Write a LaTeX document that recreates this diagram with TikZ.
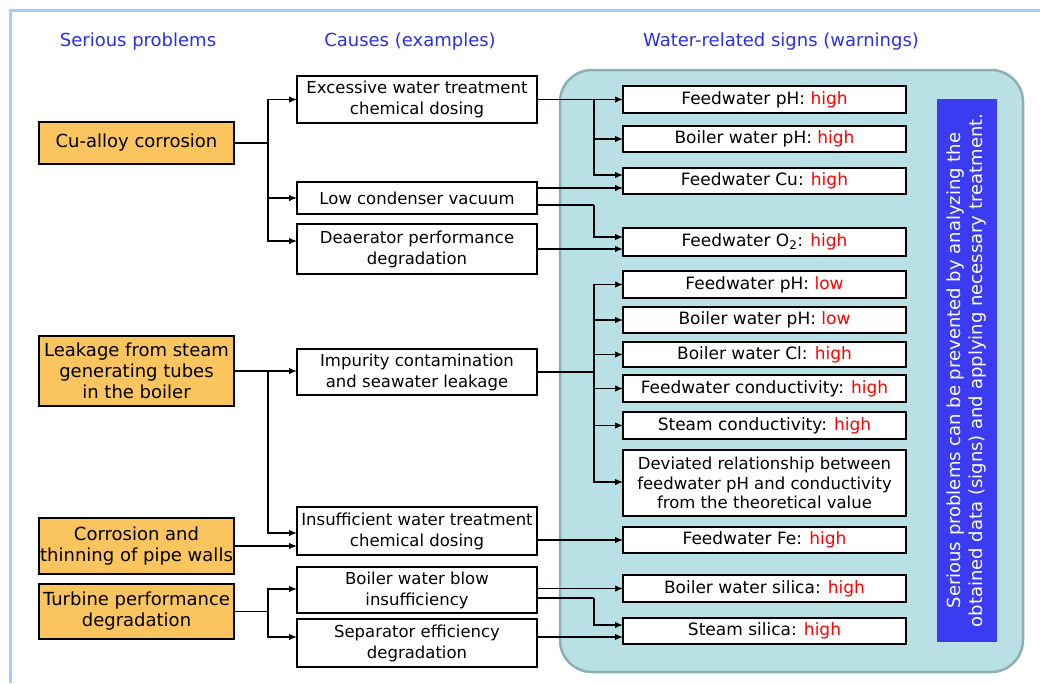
\documentclass[tikz,border=0pt]{standalone}
\usepackage{fontspec}
\setmainfont{DejaVu Sans}
\usetikzlibrary{arrows.meta}
\definecolor{hdrblue}{HTML}{2E2EE6}
\definecolor{probfill}{HTML}{FAC45E}
\definecolor{panelfill}{HTML}{B9E0E4}
\definecolor{paneledge}{HTML}{8DB0B2}
\definecolor{notefill}{HTML}{3B3BF2}
\definecolor{framecol}{HTML}{A6CCFA}
\definecolor{warnred}{HTML}{FF0000}
\newcommand{\wHigh}{\textcolor{warnred}{high}}
\newcommand{\wLow}{\textcolor{warnred}{low}}
\tikzset{
  hdr/.style={text=hdrblue, font=\fontsize{18}{21}\selectfont, inner sep=0pt},
  box/.style={draw=black, line width=1.8pt, inner sep=1pt, outer sep=0pt, align=center},
  prob/.style={box, fill=probfill, minimum width=195pt, font=\fontsize{18}{21}\selectfont},
  cause/.style={box, fill=white, minimum width=240pt, font=\fontsize{16.5}{21}\selectfont},
  sign/.style={box, fill=white, minimum width=283pt, font=\fontsize{17}{20}\selectfont},
  note/.style={fill=notefill, text=white, inner sep=0pt, align=center, font=\fontsize{18}{22}\selectfont},
  conn/.style={line width=1.3pt, draw=black},
  arr/.style={conn, -{Latex[length=8pt,width=6.5pt]}},
}
\begin{document}
\begin{tikzpicture}[x=1pt,y=-1pt]
\path[use as bounding box] (0,0) rectangle (1040,683);
\fill[white] (0,0) rectangle (1040,683);
% outer frame (top and left edges)
\draw[framecol, line width=3pt] (10.5,683) -- (10.5,10) -- (1040,10);

% column headings
\node[hdr] (h1) at (138,42) {Serious problems};
\node[hdr] (h2) at (410,42) {Causes (examples)};
\node[hdr] (h3) at (781,42) {Water-related signs (warnings)};

% panel behind the signs
\draw[paneledge, fill=panelfill, line width=2.5pt, rounded corners=32pt] (560,70) rectangle (1023,672);

% serious problems
\node[prob, minimum height=42pt] (p1) at (136.5,143) {Cu-alloy corrosion};
\node[prob, minimum height=70pt] (p2) at (136.5,371) {Leakage from steam\\generating tubes\\in the boiler};
\node[prob, minimum height=56pt] (p3) at (136.5,546) {Corrosion and\\thinning of pipe walls};
\node[prob, minimum height=55pt] (p4) at (136.5,611.5) {Turbine performance\\degradation};

% causes
\node[cause, minimum height=47pt] (c1) at (417,99.5) {Excessive water treatment\\chemical dosing};
\node[cause, minimum height=32pt] (c2) at (417,198) {Low condenser vacuum};
\node[cause, minimum height=50pt] (c3) at (417,249) {Deaerator performance\\degradation};
\node[cause, minimum height=46pt] (c4) at (417,372) {Impurity contamination\\and seawater leakage};
\node[cause, minimum height=48pt] (c5) at (417,531) {Insufficient water treatment\\chemical dosing};
\node[cause, minimum height=46pt] (c6) at (417,590) {Boiler water blow\\insufficiency};
\node[cause, minimum height=48pt] (c7) at (417,643) {Separator efficiency\\degradation};

% water-related signs
\node[sign, minimum height=27pt] (s1) at (764.5,99.5) {Feedwater pH: \wHigh};
\node[sign, minimum height=26pt] (s2) at (764.5,139) {Boiler water pH: \wHigh};
\node[sign, minimum height=26pt] (s3) at (764.5,181) {Feedwater Cu: \wHigh};
\node[sign, minimum height=28pt] (s4) at (764.5,242) {Feedwater O\textsubscript{2}: \wHigh};
\node[sign, minimum height=27pt] (s5) at (764.5,284.5) {Feedwater pH: \wLow};
\node[sign, minimum height=26pt] (s6) at (764.5,320) {Boiler water pH: \wLow};
\node[sign, minimum height=25pt] (s7) at (764.5,354.5) {Boiler water Cl: \wHigh};
\node[sign, minimum height=27pt] (s8) at (764.5,388.5) {Feedwater conductivity: \wHigh};
\node[sign, minimum height=27pt] (s9) at (764.5,425.5) {Steam conductivity: \wHigh};
\node[sign, minimum height=66pt, font=\fontsize{16.5}{19.5}\selectfont] (s10) at (764.5,483) {Deviated relationship between\\feedwater pH and conductivity\\from the theoretical value};
\node[sign, minimum height=26pt] (s11) at (764.5,540) {Feedwater Fe: \wHigh};
\node[sign, minimum height=27pt] (s12) at (764.5,588.5) {Boiler water silica: \wHigh};
\node[sign, minimum height=26pt] (s13) at (764.5,631) {Steam silica: \wHigh};

% note box
\node[note, rotate=90, minimum width=543pt, minimum height=60pt] (note) at (967,370.5)
  {Serious problems can be prevented by analyzing the\\obtained data (signs) and applying necessary treatment.};

% junction points
\coordinate (j1) at (268,143);
\coordinate (j2) at (268,371);
\coordinate (j4) at (268,611.5);
\coordinate (k1) at (594,99.5);
\coordinate (k2) at (594,205);
\coordinate (k4) at (594,372);
\coordinate (k6) at (594,598);

% problems -> causes
\draw[conn] (p1.east) -- (j1);
\draw[arr] (j1) |- (c1.west);
\draw[arr] (j1) |- (c2.west);
\draw[arr] (j1) |- ([yshift=8pt]c3.west);
\draw[arr] (p2.east) -- (p2.east -| c4.west);
\draw[arr] (j2) |- ([yshift=-2pt]c5.west);
\draw[arr] (p3.east) -- (p3.east -| c5.west);
\draw[conn] (p4.east) -- (j4);
\draw[arr] (j4) |- ([yshift=1pt]c6.west);
\draw[arr] (j4) |- ([yshift=6pt]c7.west);

% causes -> signs
\draw[arr] (c1.east) -- (s1.west);
\draw[arr] (k1) |- (s2.west);
\draw[arr] (k1) |- ([yshift=6pt]s3.west);
\draw[arr] ([yshift=10pt]c2.east) -- ([yshift=-7pt]s3.west);
\draw[conn] ([yshift=-7pt]c2.east) -- (k2);
\draw[arr] (k2) |- ([yshift=5pt]s4.west);
\draw[arr] (c3.east) -- ([yshift=-7pt]s4.west);
\draw[conn] (c4.east) -- (k4);
\draw[arr] (k4) |- (s5.west);
\draw[arr] (k4) |- (s6.west);
\draw[arr] (k4) |- (s7.west);
\draw[arr] (k4) |- (s8.west);
\draw[arr] (k4) |- (s9.west);
\draw[arr] (k4) |- ([yshift=1pt]s10.west);
\draw[arr] ([yshift=-9pt]c5.east) -- (s11.west);
\draw[arr] (s12.west -| c6.east) -- (s12.west);
\draw[conn] ([yshift=-8pt]c6.east) -- (k6);
\draw[arr] (k6) |- ([yshift=6pt]s13.west);
\draw[arr] ([yshift=6pt]c7.east) -- ([yshift=-6pt]s13.west);
\end{tikzpicture}
\end{document}
